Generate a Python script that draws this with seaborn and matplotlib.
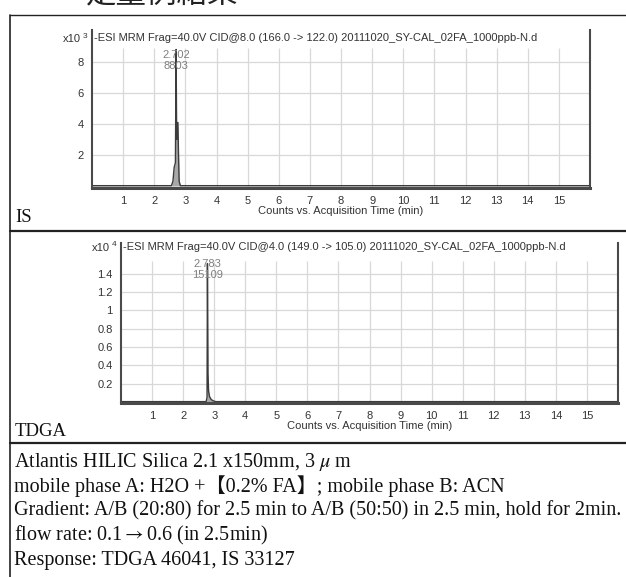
import matplotlib
matplotlib.use("Agg")
import matplotlib.pyplot as plt
from matplotlib.lines import Line2D
import seaborn as sns

# page text
page_title = "定量例結果"
panel_names = ["IS", "TDGA"]
chart_titles = [
    "-ESI MRM Frag=40.0V CID@8.0 (166.0 -> 122.0) 20111020_SY-CAL_02FA_1000ppb-N.d",
    "-ESI MRM Frag=40.0V CID@4.0 (149.0 -> 105.0) 20111020_SY-CAL_02FA_1000ppb-N.d",
]
exponents = ["3", "4"]
x_label = "Counts vs. Acquisition Time (min)"
notes = [
    "Atlantis HILIC Silica 2.1 x150mm, 3 $\\mu$ m",
    "mobile phase A: H2O +【0.2% FA】; mobile phase B: ACN",
    "Gradient: A/B (20:80) for 2.5 min to A/B (50:50) in 2.5 min, hold for 2min.",
    "flow rate: 0.1$\\rightarrow$0.6 (in 2.5min)",
    "Response: TDGA 46041, IS 33127",
]

# chromatograms (counts in x10^3 for IS, x10^4 for TDGA)
is_time = [0.0, 2.55, 2.60, 2.64, 2.68, 2.702, 2.72, 2.76, 2.78, 2.80, 2.84, 16.0]
is_counts = [0.02, 0.02, 0.3, 1.2, 1.5, 8.803, 3.0, 4.1, 2.0, 0.3, 0.02, 0.02]
is_peak = (2.702, "2.702", "8803")

tdga_time = [0.0, 2.74, 2.77, 2.783, 2.80, 2.82, 2.85, 2.90, 2.96, 3.05, 16.0]
tdga_counts = [0.005, 0.005, 0.05, 1.5109, 0.31, 0.12, 0.06, 0.03, 0.015, 0.005, 0.005]
tdga_peak = (2.783, "2.783", "15109")

x_ticks = list(range(1, 16))
is_yticks = [2, 4, 6, 8]
is_ylabels = ["2", "4", "6", "8"]
tdga_yticks = [0.2, 0.4, 0.6, 0.8, 1.0, 1.2, 1.4]
tdga_ylabels = ["0.2", "0.4", "0.6", "0.8", "1", "1.2", "1.4"]

sns.set_style("white")
plt.rcParams["font.family"] = ["Liberation Sans", "DejaVu Sans"]
plt.rcParams["mathtext.fontset"] = "stix"

W, H = 626, 577
fig = plt.figure(figsize=(W / 100, H / 100), dpi=100)


def fx(px):
    return px / W


def fy(py):
    return 1 - py / H


serif = ["Liberation Serif", "Noto Sans CJK JP", "DejaVu Serif"]
dark = "#3c3c3c"
grid_c = "#d8d8d8"
fs = 8

# page title (cut off at the top of the page, as in the source)
fig.text(fx(162), fy(10), page_title, ha="center", va="bottom",
         fontsize=22, family=["Noto Sans CJK JP", "DejaVu Sans"], color="#222222")

# table frame
fig.add_artist(Line2D([fx(10), 1], [fy(15), fy(15)], color="#222222", lw=1.0))
fig.add_artist(Line2D([fx(10), 1], [fy(231), fy(231)], color="#222222", lw=1.6))
fig.add_artist(Line2D([fx(10), 1], [fy(443), fy(443)], color="#222222", lw=1.6))
fig.add_artist(Line2D([fx(10), fx(10)], [fy(15), 0], color="#222222", lw=1.2))

panels = [
    dict(box=(92, 590, 30, 188), t=is_time, c=is_counts, peak=is_peak,
         yt=is_yticks, yl=is_ylabels, ylim=(-0.13, 10.06), gtop=8.9,
         name_y=218, title_y=38),
    dict(box=(121, 618, 243, 403), t=tdga_time, c=tdga_counts, peak=tdga_peak,
         yt=tdga_yticks, yl=tdga_ylabels, ylim=(-0.01, 1.735), gtop=1.54,
         name_y=432, title_y=247),
]

for i, p in enumerate(panels):
    l, r, t, b = p["box"]
    ax = fig.add_axes([fx(l), fy(b), (r - l) / W, (b - t) / H])
    ax.set_xlim(0, 16)
    ax.set_ylim(*p["ylim"])
    ax.hlines(p["yt"], 0, 16, color=grid_c, lw=0.9, zorder=0)
    ax.vlines(x_ticks, 0, p["gtop"], color=grid_c, lw=0.9, zorder=0)
    ax.fill_between(p["t"], 0, p["c"], color="#a8a8a8", lw=0, zorder=1)
    sns.lineplot(x=p["t"], y=p["c"], ax=ax, color=dark, lw=1.0, zorder=2)
    rt, lab1, lab2 = p["peak"]
    ty = (b - (p["title_y"] + 17)) / (b - t)
    ax.text(rt, ty, lab1, transform=ax.get_xaxis_transform(), ha="center",
            va="center", fontsize=fs, color="#808080")
    ax.text(rt, ty - 11 / (b - t), lab2, transform=ax.get_xaxis_transform(),
            ha="center", va="center", fontsize=fs, color="#808080")
    ax.set_xticks(x_ticks)
    ax.set_xticklabels([str(v) for v in x_ticks])
    ax.set_yticks(p["yt"])
    ax.set_yticklabels(p["yl"])
    ax.tick_params(axis="both", length=4, width=0.8, color=dark, labelsize=fs,
                   labelcolor="#333333", pad=2, direction="out")
    ax.set_xlabel(x_label, fontsize=fs, color="#333333", labelpad=0)
    ax.set_ylabel("")
    for s in ["left", "right", "bottom"]:
        ax.spines[s].set_visible(True)
        ax.spines[s].set_color("#4a4a4a")
    ax.spines["left"].set_linewidth(1.5)
    ax.spines["right"].set_linewidth(1.5)
    ax.spines["bottom"].set_linewidth(2.2)
    ax.spines["top"].set_visible(False)
    ax.patch.set_alpha(0)

    fig.text(fx(l + 2), fy(p["title_y"]), chart_titles[i], ha="left",
             va="center", fontsize=fs, color="#333333")
    fig.text(fx(l - 11), fy(p["title_y"] + 1), "x10", ha="right", va="center",
             fontsize=fs, color="#333333")
    fig.text(fx(l - 9), fy(p["title_y"] - 2), exponents[i], ha="left",
             va="center", fontsize=6, color="#333333")
    fig.text(fx(15), fy(p["name_y"]), panel_names[i], ha="left", va="center",
             fontsize=13.5, family=serif, color="#111111")

for k, line in enumerate(notes):
    fig.text(fx(14), fy(462 + 24.5 * k), line, ha="left", va="center",
             fontsize=14.5, family=serif, color="#111111")

fig.savefig("out.png", dpi=100)
